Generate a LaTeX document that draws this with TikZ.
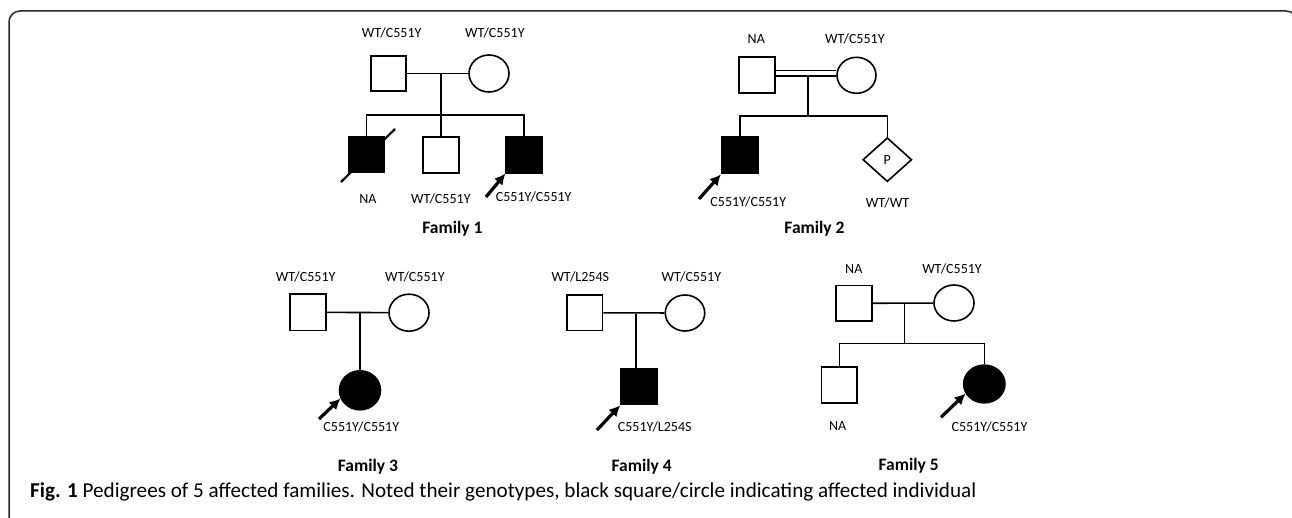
\documentclass[tikz,border=0pt]{standalone}
\usepackage{fontspec}
\setmainfont{Carlito}
\usetikzlibrary{shapes.geometric,arrows.meta}
\begin{document}
\begin{tikzpicture}[x=1pt,y=-1pt,
  male/.style={draw, rectangle, minimum size=35.5pt, inner sep=0pt, line width=1.6pt},
  female/.style={draw, ellipse, minimum width=40pt, minimum height=37pt, inner sep=0pt, line width=1.6pt},
  aff/.style={fill=black},
  unk/.style={draw, diamond, minimum width=49pt, minimum height=44pt, inner sep=0pt, line width=1.6pt, font=\fontsize{14}{16}\selectfont},
  lbl/.style={inner sep=0pt, font=\fontsize{14}{16}\selectfont},
  fam/.style={inner sep=0pt, font=\fontsize{17.5}{20}\selectfont\bfseries},
  link/.style={line width=1.6pt},
  proband/.style={line width=3.2pt, -{Latex[length=11pt,width=11pt]}},
  deceased/.style={line width=2.2pt}]

\useasboundingbox (0,0) rectangle (1292,518);
\draw[line width=1.5pt, rounded corners=11pt, black!85] (9,11) rectangle (1297,540);

% ---------------- Family 1
\node[male] (f1F) at (388.5,73.5) {};
\node[female] (f1M) at (489,73.5) {};
\coordinate (f1d) at (441,73.5);
\coordinate (f1s) at (441,115);
\node[male,aff] (f1c1) at (366.5,154.5) {};
\node[male] (f1c2) at (441,155) {};
\node[male,aff] (f1c3) at (524,155) {};
\draw[link] (f1F) -- (f1M);
\draw[link] (f1d) -- (f1s) -- (f1c2);
\draw[link] (f1c1) |- (f1s) -| (f1c3);
\coordinate (f1x1) at (341,182);
\coordinate (f1x2) at (395,129);
\draw[deceased] (f1x1) -- (f1x2);
\coordinate (f1a) at (486,197);
\draw[proband] (f1a) -- (f1c3.south west);
\node[lbl] (f1Fl) at (391.7,33.3) {WT/C551Y};
\node[lbl] (f1Ml) at (494.8,33.3) {WT/C551Y};
\node[lbl] (f1c1l) at (368,199) {NA};
\node[lbl] (f1c2l) at (440.8,199) {WT/C551Y};
\node[lbl] (f1c3l) at (533.7,197) {C551Y/C551Y};
\node[fam] (fam1) at (452.5,229) {Family 1};

% ---------------- Family 2
\node[male] (f2F) at (757,75) {};
\node[female, minimum width=39pt, minimum height=36pt] (f2M) at (856.5,75.3) {};
\coordinate (f2m) at (808,73.2);
\coordinate (f2d) at (808,76);
\coordinate (f2s) at (808,116);
\node[male,aff,minimum size=36.5pt] (f2c1) at (740,155.3) {};
\node[unk] (f2c2) at (887.3,159.7) {P};
\draw[line width=1.4pt, double, double distance=4pt] (f2F.east |- f2m) -- (f2M.west |- f2m);
\draw[link] (f2d) -- (f2s);
\draw[link] (f2c1) |- (f2s) -| (f2c2);
\coordinate (f2a) at (699,199);
\draw[proband] (f2a) -- (f2c1.south west);
\node[lbl] (f2Fl) at (756.3,39) {NA};
\node[lbl] (f2Ml) at (854.8,39) {WT/C551Y};
\node[lbl] (f2c1l) at (748.3,201.7) {C551Y/C551Y};
\node[lbl] (f2c2l) at (887.5,203) {WT/WT};
\node[fam] (fam2) at (814.5,229) {Family 2};

% ---------------- Family 3
\node[male,minimum size=36pt] (f3F) at (308,312.3) {};
\node[female] (f3M) at (409,312.7) {};
\coordinate (f3d) at (360,313.5);
\node[female,aff,minimum width=41pt,minimum height=39pt] (f3C) at (360,390.3) {};
\draw[link] (f3F) -- (f3M);
\draw[link] (f3d) -- (f3C);
\coordinate (f3a) at (319,419);
\draw[proband] (f3a) -- (f3C.203);
\node[lbl] (f3Fl) at (305.7,276.7) {WT/C551Y};
\node[lbl] (f3Ml) at (414.8,276.7) {WT/C551Y};
\node[lbl] (f3Cl) at (361.3,427.3) {C551Y/C551Y};
\node[fam] (fam3) at (368,466.7) {Family 3};

% ---------------- Family 4
\node[male] (f4F) at (584.7,312.8) {};
\node[female, minimum width=39.5pt, minimum height=36pt] (f4M) at (685,313) {};
\coordinate (f4d) at (636,314);
\node[male,aff,minimum size=36pt] (f4C) at (639,386.5) {};
\draw[link] (f4F) -- (f4M);
\draw[link] (f4d) -- (f4d |- f4C.north);
\coordinate (f4a) at (597,430);
\draw[proband] (f4a) -- (f4C.south west);
\node[lbl] (f4Fl) at (580.3,276.7) {WT/L254S};
\node[lbl] (f4Ml) at (691.3,276.7) {WT/C551Y};
\node[lbl] (f4Cl) at (654.7,427) {C551Y/L254S};
\node[fam] (fam4) at (641.7,467) {Family 4};

% ---------------- Family 5
\node[male] (f5F) at (854,303.3) {};
\node[female, minimum height=36pt] (f5M) at (954,303) {};
\coordinate (f5d) at (904.3,304);
\coordinate (f5s) at (904.3,343.3);
\node[male] (f5c1) at (839.3,385) {};
\node[female,aff,minimum width=41.3pt,minimum height=37.7pt] (f5c2) at (984.3,384) {};
\draw[link] (f5F) -- (f5M);
\draw[link] (f5d) -- (f5s);
\draw[link] (f5c1) |- (f5s) -| (f5c2);
\coordinate (f5a) at (941,417.3);
\draw[proband] (f5a) -- (f5c2.207);
\node[lbl] (f5Fl) at (853.8,269.3) {NA};
\node[lbl] (f5Ml) at (952,269.3) {WT/C551Y};
\node[lbl] (f5c1l) at (837.7,425.7) {NA};
\node[lbl] (f5c2l) at (989.5,427) {C551Y/C551Y};
\node[fam] (fam5) at (908.7,465.7) {Family 5};

% ---------------- Caption
\node[inner sep=0pt, anchor=west] (cap) at (30,492)
  {\resizebox{946pt}{!}{\fontsize{18}{22}\selectfont\textbf{Fig. 1} Pedigrees of 5 affected families. Noted their genotypes, black square/circle indicating affected individual}};
\end{tikzpicture}
\end{document}
